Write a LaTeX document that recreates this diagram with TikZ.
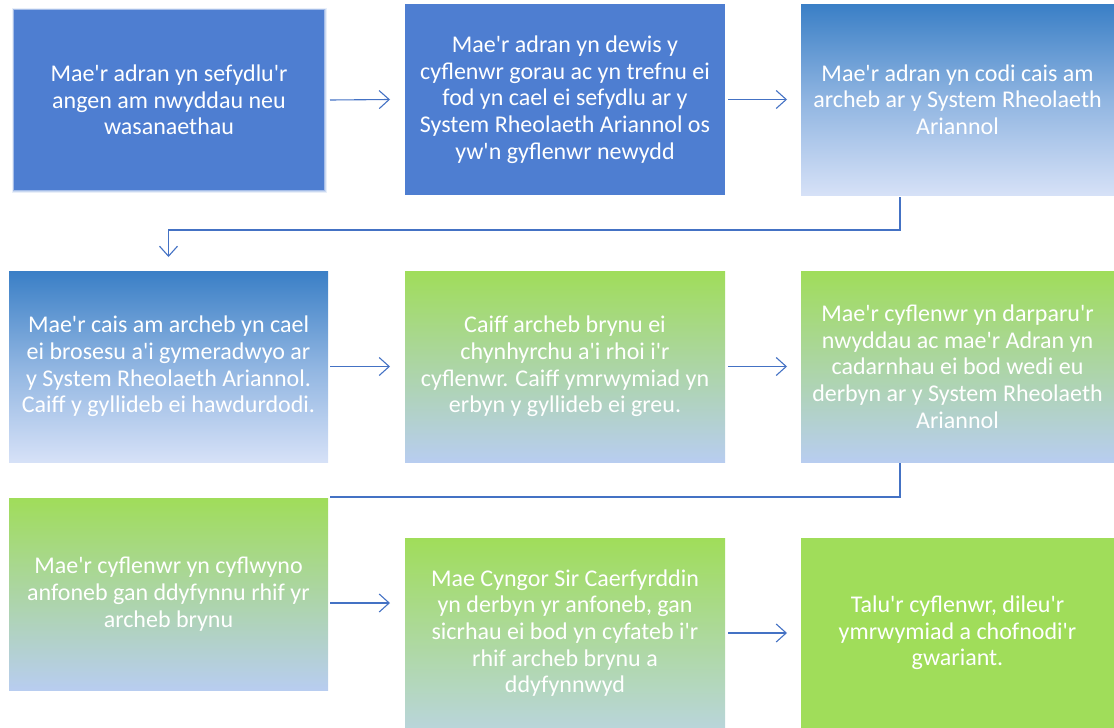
\documentclass[tikz,border=0pt]{standalone}
\usepackage{fontspec}
\setmainfont{Carlito}[Ligatures=TeXOff]
\usetikzlibrary{arrows.meta,calc}
\definecolor{solidblue}{HTML}{4E7ED1}
\definecolor{gblue}{HTML}{3A7FC6}
\definecolor{gpale}{HTML}{D6E1F7}
\definecolor{ggreen}{HTML}{A0DD5A}
\definecolor{glblue}{HTML}{B8CDF0}
\definecolor{gteal}{HTML}{B9D5DA}
\definecolor{lineblue}{HTML}{4472C4}
\tikzset{
  stepbox/.style={anchor=north west, inner sep=0pt, outer sep=0pt, text=white,
    align=center, font=\fontsize{24}{26.7}\selectfont},
  arr/.style={draw=lineblue, line width=1.1pt,
    -{Straight Barb[length=10pt,width=18pt,line width=1.1pt]}},
  link/.style={draw=lineblue, line width=1.1pt},
}
\begin{document}
\begin{tikzpicture}[x=1pt,y=-1pt]
\useasboundingbox (0,0) rectangle (1114,728);
% soft glow of first box
\foreach \w/\o in {5/0.12,3/0.2,1.5/0.3}{
  \draw[solidblue, line width=\w pt, opacity=\o] (14,10) rectangle (324,190);
}
\node[stepbox, fill=solidblue, minimum width=310pt, minimum height=180pt] (b1) at (14,10)
  {Mae'r adran yn sefydlu'r\\angen am nwyddau neu\\wasanaethau};
\node[stepbox, fill=solidblue, minimum width=320pt, minimum height=191pt] (b2) at (405,4)
  {Mae'r adran yn dewis y\\cyflenwr gorau ac yn trefnu ei\\fod yn cael ei sefydlu ar y\\System Rheolaeth Ariannol os\\yw'n gyflenwr newydd};
\node[stepbox, top color=gblue, bottom color=gpale, middle color=gblue!45!gpale, minimum width=313pt, minimum height=191pt] (b3) at (801,4)
  {Mae'r adran yn codi cais am\\archeb ar y System Rheolaeth\\Ariannol};
\node[stepbox, top color=gblue, bottom color=gpale, middle color=gblue!45!gpale, minimum width=319pt, minimum height=191pt] (b4) at (9,271)
  {Mae'r cais am archeb yn cael\\ei brosesu a'i gymeradwyo ar\\y System Rheolaeth Ariannol.\\Caiff y gyllideb ei hawdurdodi.};
\node[stepbox, top color=ggreen, bottom color=glblue, minimum width=320pt, minimum height=191pt] (b5) at (405,271)
  {Caiff archeb brynu ei\\chynhyrchu a'i rhoi i'r\\cyflenwr. Caiff ymrwymiad yn\\erbyn y gyllideb ei greu.};
\node[stepbox, top color=ggreen, bottom color=glblue, minimum width=313pt, minimum height=191pt] (b6) at (801,271)
  {Mae'r cyflenwr yn darparu'r\\nwyddau ac mae'r Adran yn\\cadarnhau ei bod wedi eu\\derbyn ar y System Rheolaeth\\Ariannol};
\node[stepbox, top color=ggreen, bottom color=glblue, minimum width=319pt, minimum height=192pt] (b7) at (9,498)
  {Mae'r cyflenwr yn cyflwyno\\anfoneb gan ddyfynnu rhif yr\\archeb brynu};
\node[stepbox, top color=ggreen, bottom color=gteal, minimum width=320pt, minimum height=190pt] (b8) at (405,538)
  {Mae Cyngor Sir Caerfyrddin\\yn derbyn yr anfoneb, gan\\sicrhau ei bod yn cyfateb i'r\\rhif archeb brynu a\\ddyfynnwyd};
\node[stepbox, fill=ggreen, minimum width=313pt, minimum height=190pt] (b9) at (801,538)
  {Talu'r cyflenwr, dileu'r\\ymrwymiad a chofnodi'r\\gwariant.};
% arrows
\draw[arr] ([xshift=6pt]b1.east) -- ([xshift=-15pt]b2.west);
\draw[arr] ([xshift=3pt]b2.east) -- ([xshift=-14pt]b3.west);
\draw[arr] ([xshift=2pt]b4.east) -- ([xshift=-15pt]b5.west);
\draw[arr] ([xshift=3pt]b5.east) -- ([xshift=-14pt]b6.west);
\draw[arr] ([shift={(2pt,-9pt)}]b7.east) -- ([shift={(-15pt,30pt)}]b8.west);
\draw[arr] ([xshift=3pt]b8.east) -- ([xshift=-14pt]b9.west);
\draw[arr] ([shift={(-57.5pt,-2pt)}]b3.south) -- ++(0,33) -| ([yshift=14pt]b4.north);
\draw[link] ([shift={(-57.5pt,-1pt)}]b6.south) |- ([shift={(2pt,1pt)}]b7.north east);
\end{tikzpicture}
\end{document}
